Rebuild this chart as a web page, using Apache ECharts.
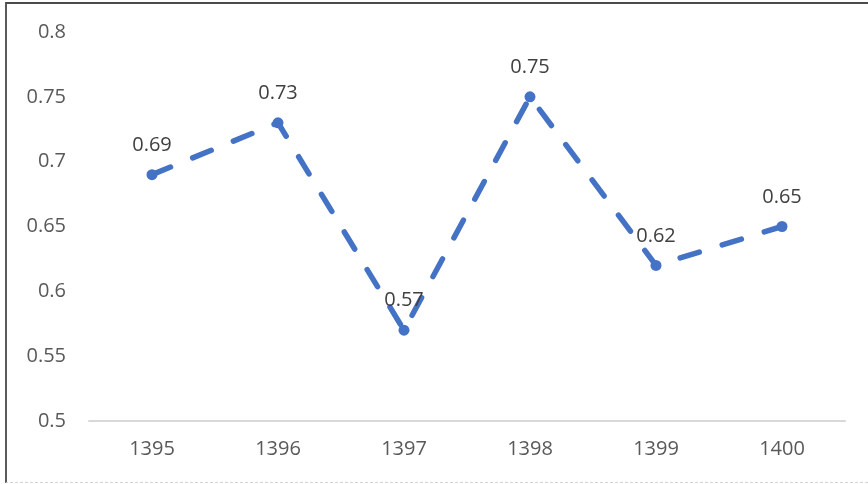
<!DOCTYPE html>
<html>
<head>
<meta charset="utf-8">
<script src="https://cdn.jsdelivr.net/npm/echarts@6/dist/echarts.min.js"></script>
<style>
  html, body { margin: 0; padding: 0; background: #fff; overflow: hidden; width: 868px; height: 484px; }
  #chart { position: absolute; left: 0; top: 0; width: 868px; height: 484px; }
  #frame {
    position: absolute; left: 5px; top: 2px; width: 863px; height: 481px;
    box-sizing: border-box;
    border-left: 2px solid #5a5a5a; border-top: 2px solid #4a4a4a;
    border-bottom: 1px dashed #d4d4d4; pointer-events: none; z-index: 10;
  }
</style>
</head>
<body>
<div id="chart"></div>
<div id="frame"></div>
<script>
const years = ['1395', '1396', '1397', '1398', '1399', '1400'];
const values = [0.69, 0.73, 0.57, 0.75, 0.62, 0.65];
const yTicks = { min: 0.5, max: 0.8, step: 0.05 };

const font = '"Open Sans", "Noto Sans", sans-serif';
const chart = echarts.init(document.getElementById('chart'), null, { renderer: 'canvas' });
chart.setOption({
  animation: false,
  grid: { left: 89, right: 23, top: 32, bottom: 63 },
  xAxis: {
    type: 'category',
    data: years,
    boundaryGap: true,
    axisLine: { lineStyle: { color: '#d9d9d9', width: 2 } },
    axisTick: { show: false },
    axisLabel: { color: '#595959', fontFamily: font, fontSize: 20, margin: 18 }
  },
  yAxis: {
    type: 'value',
    min: yTicks.min, max: yTicks.max, interval: yTicks.step,
    splitLine: { show: false },
    axisLine: { show: false },
    axisTick: { show: false },
    axisLabel: {
      color: '#595959', fontFamily: font, fontSize: 20, margin: 23,
      formatter: v => String(parseFloat(v.toFixed(2)))
    }
  },
  series: [{
    type: 'line',
    data: values,
    symbol: 'circle',
    symbolSize: 11,
    itemStyle: { color: '#4472c4' },
    lineStyle: { color: '#4472c4', width: 5.5, type: [20, 24], cap: 'round' },
    label: {
      show: true, position: 'top', distance: 14,
      color: '#404040', fontFamily: font, fontSize: 20
    }
  }]
});
</script>
</body>
</html>
